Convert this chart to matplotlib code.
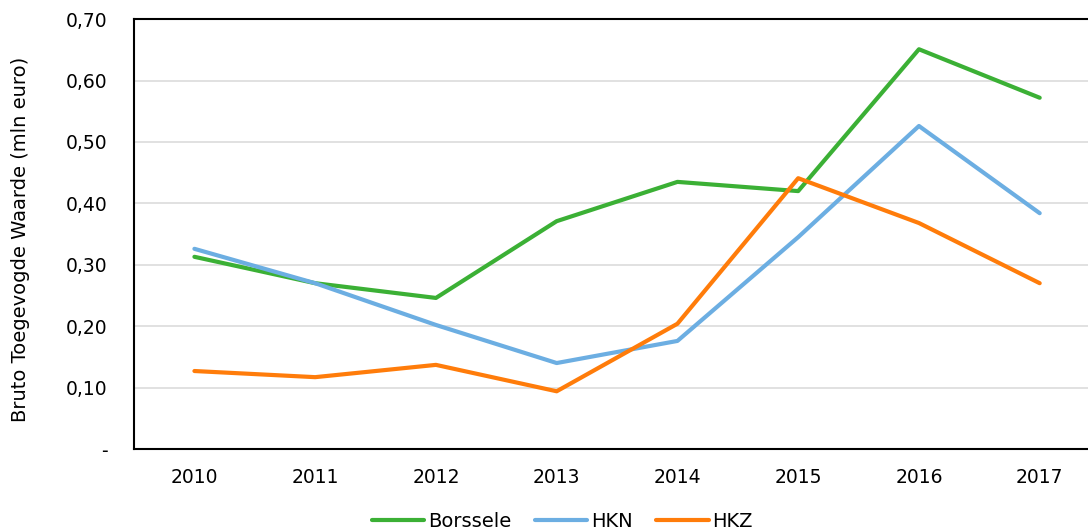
import matplotlib.pyplot as plt

years = ['2010', '2011', '2012', '2013', '2014', '2015', '2016', '2017']
borssele = [0.313, 0.270, 0.246, 0.371, 0.435, 0.420, 0.651, 0.572]
hkn = [0.326, 0.270, 0.202, 0.140, 0.176, 0.345, 0.526, 0.384]
hkz = [0.127, 0.117, 0.137, 0.094, 0.204, 0.441, 0.368, 0.270]
yticks = [0.0, 0.1, 0.2, 0.3, 0.4, 0.5, 0.6, 0.7]
ytick_labels = ['-', '0,10', '0,20', '0,30', '0,40', '0,50', '0,60', '0,70']

fig = plt.figure(figsize=(10.88, 5.32), dpi=100)
ax = fig.add_axes([0.1232, 0.156, 0.8768, 0.808])

x = range(len(years))
ax.plot(x, borssele, color='#3BB035', lw=3, solid_capstyle='round', solid_joinstyle='round', label='Borssele')
ax.plot(x, hkn, color='#6CAEE2', lw=3, solid_capstyle='round', solid_joinstyle='round', label='HKN')
ax.plot(x, hkz, color='#FF7C0A', lw=3, solid_capstyle='round', solid_joinstyle='round', label='HKZ')

ax.set_xlim(-0.5, 7.4)
ax.set_ylim(0, 0.7)
ax.set_xticks(list(x))
ax.set_xticklabels(years)
ax.set_yticks(yticks)
ax.set_yticklabels(ytick_labels)
ax.tick_params(length=0, labelsize=13.5, pad=14)
ax.tick_params(axis='y', pad=19)

ax.grid(axis='y', color='#d9d9d9', lw=1.1)
ax.set_axisbelow(True)
ax.spines['right'].set_visible(False)
for s in ['left', 'top', 'bottom']:
    ax.spines[s].set_linewidth(1.5)
    ax.spines[s].set_color('#000000')

fig.text(0.019, 0.55, 'Bruto Toegevogde Waarde (mln euro)', rotation=90,
         ha='center', va='center', fontsize=14)

fig.legend(loc='center', bbox_to_anchor=(0.517, 0.02), ncol=3, frameon=False,
           fontsize=14, handlelength=2.7, handletextpad=0.2, columnspacing=1.2)

fig.savefig('out.png', dpi=100)
